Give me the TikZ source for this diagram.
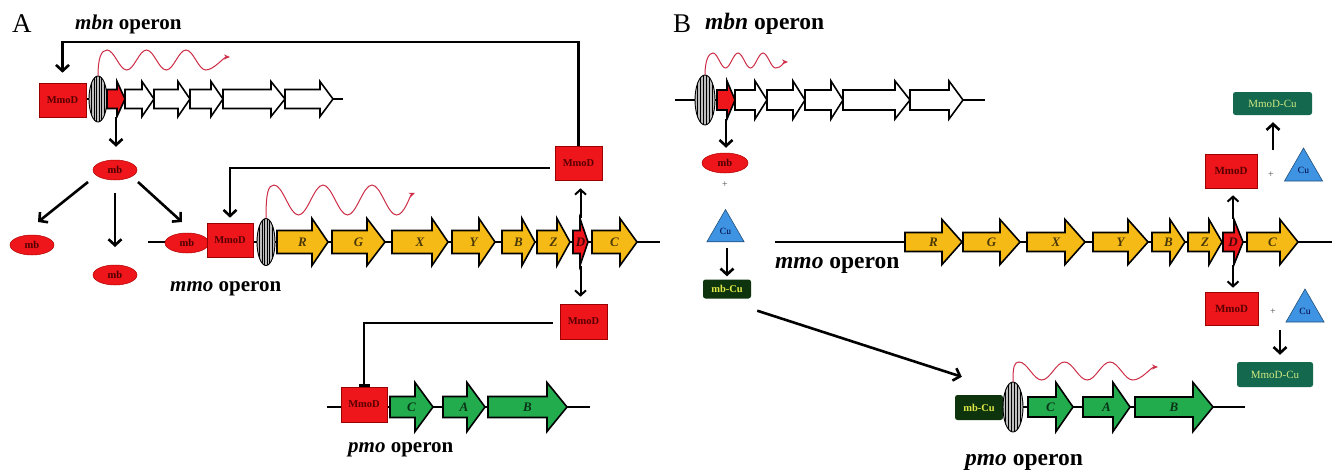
\documentclass[tikz,border=0pt]{standalone}
\usepackage{fontspec}
\setmainfont{Liberation Serif}
\usetikzlibrary{arrows.meta,shapes.geometric}

\definecolor{boxred}{RGB}{238,22,26}
\definecolor{genegold}{RGB}{246,186,22}
\definecolor{genegreen}{RGB}{34,172,78}
\definecolor{wavered}{RGB}{205,45,70}
\definecolor{cublue}{RGB}{62,148,226}
\definecolor{darkgr}{RGB}{14,52,14}
\definecolor{tealgr}{RGB}{20,104,78}
\definecolor{limetext}{RGB}{222,232,70}
\definecolor{paletext}{RGB}{205,232,130}
\definecolor{stripegray}{RGB}{190,190,190}

\tikzset{
  genebox/.style={draw=black, line width=1.6pt, line join=miter},
  genelab/.style={inner sep=0pt, font=\fontsize{13}{13}\selectfont\bfseries\itshape},
  backbone/.style={line width=2pt},
  mmod/.style={rectangle, draw=red!60!black, line width=0.6pt, fill=boxred, inner sep=0pt,
    minimum width=47pt, minimum height=34pt,
    font=\fontsize{10.5}{11}\selectfont\bfseries, text=black!65!red},
  mbell/.style={ellipse, fill=boxred, draw=red!70!black, line width=0.5pt,
    minimum width=44pt, minimum height=20pt, inner sep=0pt,
    font=\fontsize{10.5}{11}\selectfont\bfseries, text=black!70!red},
  cutri/.style={regular polygon, regular polygon sides=3, fill=cublue, draw=cublue!55!black,
    line width=0.6pt, inner sep=0pt, minimum size=43pt,
    font=\fontsize{9.5}{10}\selectfont, text=blue!25!black},
  mbcu/.style={rectangle, rounded corners=2.5pt, fill=darkgr, inner sep=0pt,
    minimum width=48pt, minimum height=19pt, text=limetext,
    font=\fontsize{10.5}{11}\selectfont\bfseries},
  mmodcu/.style={rectangle, rounded corners=2.5pt, fill=tealgr, inner sep=0pt,
    minimum width=79pt, minimum height=23pt, text=paletext,
    font=\fontsize{11}{12}\selectfont},
  conn/.style={line width=2.6pt, -{Straight Barb[length=6pt,width=13pt]}},
  thinconn/.style={line width=2pt, -{Straight Barb[length=5pt,width=11pt]}},
  inhib/.style={line width=2.4pt, -{Bar[width=11pt]}},
  wave/.style={line width=1pt, wavered, -{Stealth[length=6pt,width=5pt]}},
  plussign/.style={inner sep=0pt, font=\fontsize{10}{10}\selectfont, text=black!70},
  paneltag/.style={anchor=base west, inner sep=0pt, font=\fontsize{27}{30}\selectfont},
  optitleA/.style={anchor=base west, inner sep=0pt, font=\fontsize{21}{24}\selectfont\bfseries},
  optitleB/.style={anchor=base west, inner sep=0pt, font=\fontsize{23.5}{26}\selectfont\bfseries},
}

% gene arrow: name, x start, x tip, y centre, body half height, head half height,
% head length, fill colour, label
\newcommand\gene[9]{%
  \draw[genebox,fill=#8] (#2,#4-#5) -- (#3-#7,#4-#5) -- (#3-#7,#4-#6) -- (#3,#4)
    -- (#3-#7,#4+#6) -- (#3-#7,#4+#5) -- (#2,#4+#5) -- cycle;
  \node[genelab,text=#8!30!black,minimum width={(#3-#2)*1pt},minimum height={2*#6*1pt}]
    (#1) at ({(#2+#3)/2},#4) {#9};%
}

% striped promoter oval: name, x, y, x radius, y radius
\newcommand\rbs[5]{%
  \node[inner sep=0pt, ellipse, minimum width={2*#4*1pt}, minimum height={2*#5*1pt}] (#1) at (#2,#3) {};
  \begin{scope}
    \clip (#2,#3) ellipse [x radius=#4, y radius=#5];
    \fill[stripegray] (#2-#4,#3-#5) rectangle (#2+#4,#3+#5);
    \foreach \stripe in {-0.72,-0.43,-0.14,0.14,0.43,0.72}
      \draw[line width=1.1pt] ({#2+\stripe*#4},#3-#5) -- ({#2+\stripe*#4},#3+#5);
  \end{scope}
  \draw[line width=0.9pt] (#2,#3) ellipse [x radius=#4, y radius=#5];%
}

\begin{document}
\begin{tikzpicture}[x=1pt,y=-1pt]
\useasboundingbox (0,0) rectangle (1332,471);
\fill[white] (0,0) rectangle (1332,471);

% ================= panel A =================
\node[paneltag] (tagA) at (12,32) {A};
\node[optitleA] (mbnA) at (75,29) {{\itshape mbn} operon};

% mbn operon
\draw[backbone] (86,99) -- (343,99);
\node[mmod] (mbnbox) at (62.5,100) {MmoD};
\rbs{rbsA1}{98}{99}{9}{23}
\gene{mbnA0}{107}{125}{99}{9.5}{17.5}{8}{boxred}{}
\gene{mbnA1}{125}{154}{99}{9.5}{17.5}{12}{white}{}
\gene{mbnA2}{154}{190}{99}{9.5}{17.5}{12}{white}{}
\gene{mbnA3}{190}{223}{99}{9.5}{17.5}{12}{white}{}
\gene{mbnA4}{223}{285}{99}{9.5}{17.5}{14}{white}{}
\gene{mbnA5}{285}{333}{99}{9.5}{17.5}{13}{white}{}
% transcript
\draw[wave] (rbsA1.north) .. controls +(0,-17) and +(-6,0) .. (107,50)
  cos ++(9.875,10) sin ++(9.875,10) cos ++(9.875,-10) sin ++(9.875,-10)
  cos ++(9.875,10) sin ++(9.875,10) cos ++(9.875,-10) sin ++(9.875,-10)
  cos ++(9.875,10) sin ++(9.875,10)
  .. controls +(8,0) and +(-6,0) .. (230,57);

% methanobactin
\node[mbell] (mbA) at (115,170) {mb};
\node[mbell] (mbL) at (32,245) {mb};
\node[mbell] (mbM) at (115,275) {mb};

% mmo operon
\draw[backbone] (148,242) -- (660,242);
\node[mbell] (mbR) at (187,243) {mb};
\node[mmod, minimum width=46pt] (mmobox) at (230,240) {MmoD};
\rbs{rbsA2}{266}{242}{9}{23.5}
\gene{mmoR}{277}{328}{242}{11.5}{23.5}{16}{genegold}{R}
\gene{mmoG}{332}{385}{242}{11.5}{23.5}{18}{genegold}{G}
\gene{mmoX}{392}{448}{242}{11.5}{23.5}{16}{genegold}{X}
\gene{mmoY}{452}{495}{242}{11.5}{23.5}{16}{genegold}{Y}
\gene{mmoB}{502}{535}{242}{11.5}{23.5}{13}{genegold}{B}
\gene{mmoZ}{537}{570}{242}{11.5}{23.5}{13}{genegold}{Z}
\gene{mmoD}{573}{588}{242}{11.5}{23.5}{8}{boxred}{D}
\gene{mmoC}{592}{637}{242}{11.5}{23.5}{17}{genegold}{C}
\draw[wave] (rbsA2.north) .. controls +(0,-25) and +(-6,0) .. (274,185)
  cos ++(12.25,15) sin ++(12.25,15) cos ++(12.25,-15) sin ++(12.25,-15)
  cos ++(12.25,15) sin ++(12.25,15) cos ++(12.25,-15) sin ++(12.25,-15)
  cos ++(12.25,15) sin ++(12.25,15)
  .. controls +(8,0) and +(-5,2) .. (415,193);
\node[optitleA] (mmoA) at (170,291) {{\itshape mmo} operon};

\node[mmod] (mmoDup) at (578.5,163) {MmoD};
\node[mmod, minimum height=35pt] (mmoDdn) at (583.5,321.5) {MmoD};

% pmo operon
\draw[backbone] (327,407) -- (590,407);
\node[mmod, minimum width=46pt, minimum height=35pt] (pmobox) at (364,404.5) {MmoD};
\gene{pmoC}{390}{433}{407}{10.5}{24.5}{18}{genegreen}{C}
\gene{pmoA}{443}{485}{407}{10.5}{24.5}{18}{genegreen}{A}
\gene{pmoB}{488}{567}{407}{10.5}{24.5}{20}{genegreen}{B}
\node[optitleA] (pmoT) at (348,452) {{\itshape pmo} operon};

% regulatory connections (A)
\coordinate (feedTL) at (62.5,42);
\draw[conn, shorten >=10pt] (mmoDup.north) |- (feedTL) -- (mbnbox.north);
\draw[conn, shorten >=5pt] ([xshift=-5pt,yshift=-5pt]mmoDup.west) -| (mmobox.north);
\draw[thinconn, shorten >=8pt] (mmoD.north) -- (mmoD.north |- mmoDup.south);
\draw[thinconn, shorten >=7pt] (mmoD.south) -- (mmoD.south |- mmoDdn.north);
\draw[inhib] ([xshift=-7pt,yshift=-1.5pt]mmoDdn.west) -| (pmobox.north);
\draw[conn, shorten >=13pt] (mbnA0.south) -- (mbnA0.south |- mbA.north);
\draw[conn] ([shift={(-27,12)}]mbA.center) -- ([shift={(6,-23)}]mbL.center);
\draw[conn] ([shift={(0,23)}]mbA.center) -- ([shift={(0,-28)}]mbM.center);
\draw[conn] ([shift={(23,12)}]mbA.center) -- ([shift={(-5,-21)}]mbR.center);

% ================= panel B =================
\node[paneltag] (tagB) at (673,32) {B};
\node[optitleB] (mbnB) at (705,29) {{\itshape mbn} operon};

% mbn operon
\draw[backbone] (675,100) -- (985,100);
\rbs{rbsB1}{705}{100}{10}{25}
\gene{mbnB0}{717}{735}{100}{10}{19}{8}{boxred}{}
\gene{mbnB1}{735}{767}{100}{10}{19}{12}{white}{}
\gene{mbnB2}{767}{805}{100}{10}{19}{12}{white}{}
\gene{mbnB3}{805}{843}{100}{10}{19}{12}{white}{}
\gene{mbnB4}{843}{910}{100}{10}{19}{15}{white}{}
\gene{mbnB5}{910}{963}{100}{10}{19}{14}{white}{}
\draw[wave] (rbsB1.north) .. controls +(0,-15) and +(-4,0) .. (713,53)
  cos ++(6.25,7.5) sin ++(6.25,7.5) cos ++(6.25,-7.5) sin ++(6.25,-7.5)
  cos ++(6.25,7.5) sin ++(6.25,7.5) cos ++(6.25,-7.5) sin ++(6.25,-7.5)
  cos ++(6.25,7.5) sin ++(6.25,7.5)
  .. controls +(6,0) and +(-4,0) .. (788,62);

\node[mbell, minimum width=46pt] (mbB) at (725,163) {mb};
\node[plussign] (plusB) at (725,185) {+};
\node[cutri] (cuB) at (725.5,231) {Cu};
\node[mbcu] (mbcuB) at (727,289) {mb-Cu};
\draw[conn, shorten >=5pt] (mbnB0.south) -- (mbnB0.south |- mbB.north);
\draw[conn, shorten >=3pt] ([xshift=1.5pt,yshift=-17pt]cuB.center) -- ([xshift=1.5pt]cuB.center |- mbcuB.north);

% mmo operon
\draw[backbone] (775,242) -- (1332,242);
\node[optitleB] (mmoB) at (775,268) {{\itshape mmo} operon};
\gene{mmoRB}{905}{962}{242}{9.5}{22.5}{20}{genegold}{R}
\gene{mmoGB}{963}{1020}{242}{9.5}{22.5}{20}{genegold}{G}
\gene{mmoXB}{1027}{1085}{242}{9.5}{22.5}{20}{genegold}{X}
\gene{mmoYB}{1093}{1148}{242}{9.5}{22.5}{20}{genegold}{Y}
\gene{mmoBB}{1152}{1185}{242}{9.5}{22.5}{15}{genegold}{B}
\gene{mmoZB}{1188}{1222}{242}{9.5}{22.5}{13}{genegold}{Z}
\gene{mmoDB}{1223}{1243}{242}{9.5}{22.5}{9}{boxred}{D}
\gene{mmoCB}{1247}{1298}{242}{9.5}{22.5}{18}{genegold}{C}

\node[mmod, minimum width=52pt, font=\fontsize{11}{11}\selectfont\bfseries] (mmoDupB) at (1231,171) {MmoD};
\node[plussign] (plusU) at (1271,175) {+};
\node[cutri, minimum size=44pt] (cuU) at (1303.5,170) {Cu};
\node[mmodcu] (mcuU) at (1272.5,103.5) {MmoD-Cu};

\node[mmod, minimum width=53pt, minimum height=33pt, font=\fontsize{11}{11}\selectfont\bfseries] (mmoDdnB) at (1231.5,308.5) {MmoD};
\node[plussign] (plusD) at (1273,312) {+};
\node[cutri, minimum size=44pt] (cuD) at (1305,311) {Cu};
\node[mmodcu, minimum width=76pt, minimum height=25pt] (mcuD) at (1275,374.5) {MmoD-Cu};

\draw[thinconn, shorten >=7pt] (mmoDB.north) -- (mmoDB.north |- mmoDupB.south);
\draw[thinconn, shorten >=4pt] (mmoDB.south) -- (mmoDB.south |- mmoDdnB.north);
\draw[conn, shorten >=7pt] ([xshift=2pt,yshift=25pt]plusU.center) -- ([xshift=2pt]plusU.center |- mcuU.south);
\draw[conn, shorten >=7pt] ([xshift=7pt,yshift=-18pt]plusD.center) -- ([xshift=7pt]plusD.center |- mcuD.north);

% pmo operon
\draw[backbone] (955,407) -- (1245,407);
\node[mbcu, minimum height=25pt] (mbcuP) at (979,407.5) {mb-Cu};
\rbs{rbsB2}{1013}{407}{10}{25}
\gene{pmoCB}{1028}{1073}{407}{10}{24.5}{17}{genegreen}{C}
\gene{pmoAB}{1083}{1130}{407}{10}{24.5}{17}{genegreen}{A}
\gene{pmoBB}{1135}{1213}{407}{10}{24.5}{20}{genegreen}{B}
\draw[wave] (rbsB2.north) .. controls +(0,-15) and +(-5,0) .. (1019,362)
  cos ++(11.375,9) sin ++(11.375,9) cos ++(11.375,-9) sin ++(11.375,-9)
  cos ++(11.375,9) sin ++(11.375,9) cos ++(11.375,-9) sin ++(11.375,-9)
  cos ++(11.375,9) sin ++(11.375,9)
  .. controls +(9,0) and +(-7,0) .. (1158,367);
\node[optitleB] (pmoTB) at (965,465) {{\itshape pmo} operon};

% copper-loaded methanobactin acting on pmo
\draw[conn] ([shift={(6,12)}]mbcuB.south east) -- ([shift={(7,-18)}]mbcuP.north west);
\end{tikzpicture}
\end{document}
